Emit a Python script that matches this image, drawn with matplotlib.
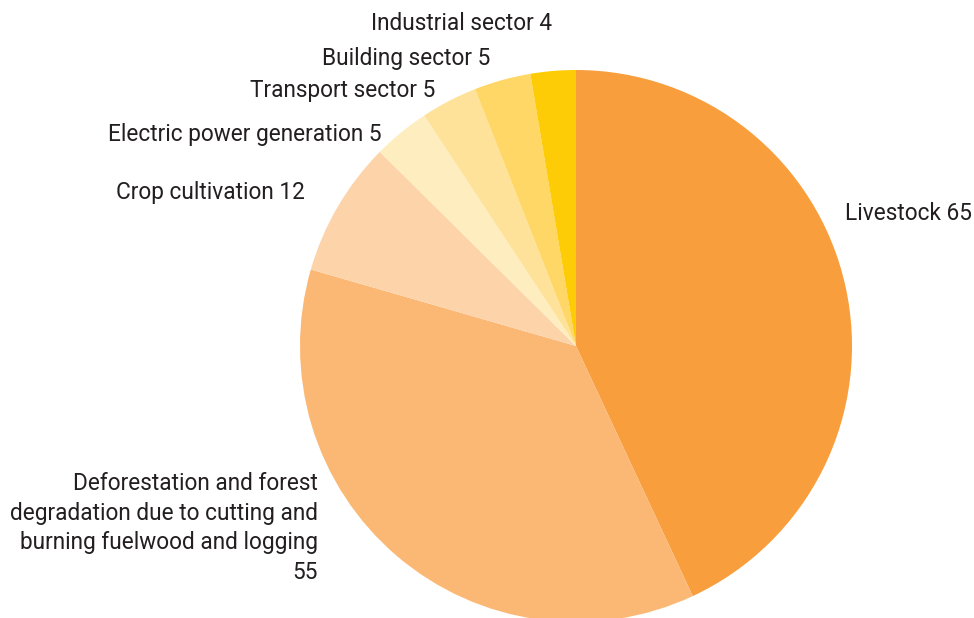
import matplotlib.pyplot as plt

# emissions by source
labels = ["Livestock", "Deforestation and forest\ndegradation due to cutting and\nburning fuelwood and logging",
          "Crop cultivation", "Electric power generation", "Transport sector",
          "Building sector", "Industrial sector"]
values = [65, 55, 12, 5, 5, 5, 4]
colors = ["#F89E3C", "#FBB874", "#FDD4AA", "#FEEDBE", "#FEE29A", "#FED767", "#FECC07"]

W, H = 974, 618
# label anchor points, measured from top-left (x, y, ha)
label_pos = [(845, 213, "left"), (318, 528, "right"), (305, 192, "right"),
             (382, 134, "right"), (435, 91, "right"), (490, 58, "right"), (552, 24, "right")]

plt.rcParams['font.family'] = ['Roboto', 'DejaVu Sans']

fig = plt.figure(figsize=(W / 100, H / 100), dpi=100)
ax = fig.add_axes([0, 0, 1, 1])

ax.pie(values, colors=colors, startangle=90, counterclock=False,
       center=(576, H - 346), radius=276, frame=True,
       wedgeprops=dict(linewidth=0))
ax.set_xlim(0, W)
ax.set_ylim(0, H)
ax.set_aspect('equal')
ax.axis('off')

for lab, v, (x, y, ha) in zip(labels, values, label_pos):
    if "\n" in lab:
        txt = lab + "\n" + str(v)
    else:
        txt = f"{lab} {v}"
    ax.text(x, H - y, txt, ha=ha, va='center', fontsize=16.3, fontweight='normal',
            color="#231F20", linespacing=1.38, multialignment='right')

fig.savefig("out.png", dpi=100)
